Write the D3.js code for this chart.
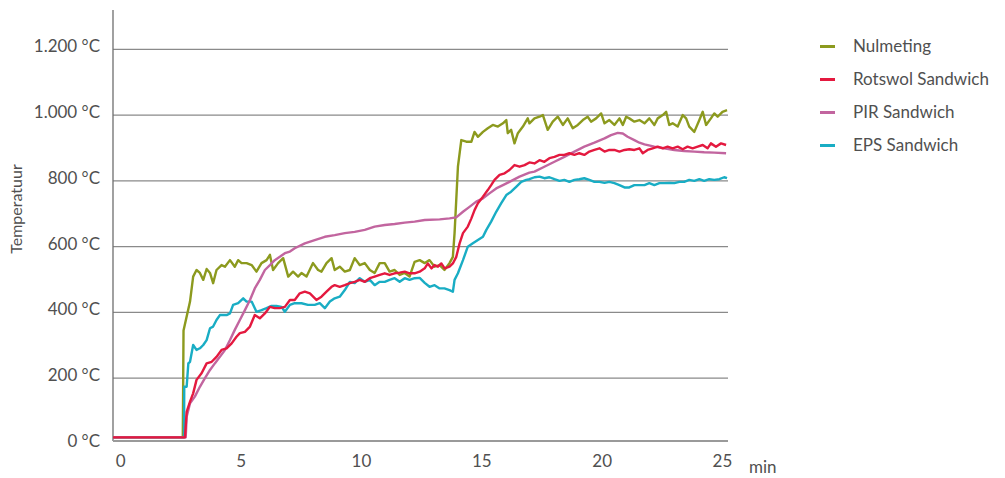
<!DOCTYPE html>
<html>
<head>
<meta charset="utf-8">
<script src="https://cdn.jsdelivr.net/npm/d3@7"></script>
<style>
    body { margin: 0; background: #fff; }
    text { font-family: Lato, "Open Sans", sans-serif; fill: #505050; }
</style>
</head>
<body>
<svg width="1005" height="478"></svg>
<script>
// tick values
var xTicks = [0, 5, 10, 15, 20, 25];
var yTicks = [0, 200, 400, 600, 800, 1000, 1200];

// [minuten, °C]
var nulmeting = [
    [-0.3, 20], [2.6, 20], [2.63, 345], [2.9, 433], [3.03, 509], [3.17, 529], [3.31, 520], [3.45, 499],
    [3.59, 532], [3.73, 520], [3.86, 489], [4.0, 529], [4.21, 544], [4.35, 539], [4.56, 559], [4.76, 539],
    [4.9, 559], [5.04, 550], [5.25, 550], [5.46, 544], [5.66, 524], [5.87, 550], [6.08, 559], [6.22, 575],
    [6.35, 529], [6.56, 550], [6.77, 565], [6.98, 509], [7.18, 524], [7.39, 509], [7.53, 520], [7.74, 509],
    [8.01, 550], [8.22, 529], [8.36, 524], [8.57, 550], [8.78, 565], [8.91, 529], [9.12, 539], [9.33, 524],
    [9.54, 529], [9.74, 565], [9.95, 544], [10.16, 550], [10.37, 529], [10.57, 520], [10.78, 550], [10.99, 550],
    [11.19, 524], [11.4, 529], [11.61, 514], [11.82, 520], [12.02, 509], [12.23, 554], [12.44, 559], [12.65, 550],
    [12.85, 559], [13.06, 539], [13.27, 544], [13.47, 529], [13.68, 550], [13.82, 569], [13.89, 641], [13.96, 742],
    [14.03, 843], [14.17, 924], [14.38, 919], [14.59, 919], [14.72, 949], [14.86, 934], [15.07, 949], [15.27, 960],
    [15.48, 970], [15.69, 965], [15.9, 975], [16.04, 985], [16.1, 945], [16.24, 955], [16.38, 914], [16.52, 945],
    [16.73, 965], [16.93, 990], [17.0, 975], [17.21, 990], [17.42, 995], [17.56, 1000], [17.76, 955], [17.97, 980],
    [18.18, 995], [18.39, 970], [18.59, 990], [18.8, 960], [19.01, 970], [19.22, 985], [19.42, 995], [19.56, 980],
    [19.77, 990], [19.98, 1005], [20.12, 975], [20.32, 985], [20.53, 970], [20.74, 990], [20.88, 970], [21.02, 995],
    [21.15, 990], [21.36, 980], [21.57, 985], [21.78, 975], [21.98, 990], [22.19, 970], [22.33, 990], [22.54, 1000],
    [22.68, 1010], [22.81, 970], [22.95, 975], [23.16, 965], [23.37, 1000], [23.51, 990], [23.64, 965], [23.85, 949],
    [24.06, 985], [24.2, 1010], [24.34, 970], [24.54, 990], [24.68, 1005], [24.82, 995], [25.02, 1010], [25.21, 1015]
];

var rotswol = [
    [-0.3, 20], [2.69, 20], [2.76, 98], [2.9, 129], [3.03, 154], [3.17, 195], [3.38, 215], [3.59, 245],
    [3.8, 250], [4.0, 265], [4.21, 286], [4.42, 291], [4.63, 306], [4.83, 326], [4.97, 337], [5.18, 341],
    [5.39, 357], [5.59, 392], [5.8, 382], [6.01, 397], [6.22, 417], [6.42, 413], [6.63, 413], [6.84, 417],
    [7.05, 438], [7.25, 438], [7.46, 458], [7.67, 463], [7.88, 458], [8.15, 438], [8.36, 448], [8.57, 463],
    [8.78, 478], [8.91, 483], [9.12, 478], [9.33, 483], [9.54, 489], [9.74, 493], [9.95, 499], [10.16, 493],
    [10.37, 504], [10.57, 509], [10.78, 514], [10.99, 519], [11.19, 514], [11.4, 519], [11.61, 521], [11.82, 524],
    [12.02, 519], [12.23, 519], [12.44, 524], [12.65, 534], [12.78, 549], [12.93, 534], [13.06, 544], [13.2, 539],
    [13.34, 549], [13.48, 534], [13.68, 539], [13.82, 549], [13.96, 569], [14.1, 610], [14.24, 641], [14.44, 661],
    [14.59, 686], [14.72, 711], [14.86, 732], [15.07, 752], [15.27, 772], [15.41, 787], [15.55, 803], [15.76, 818],
    [15.97, 823], [16.17, 833], [16.38, 848], [16.59, 843], [16.8, 848], [17.0, 856], [17.21, 853], [17.42, 863],
    [17.62, 858], [17.83, 869], [18.04, 873], [18.25, 879], [18.45, 879], [18.66, 884], [18.87, 879], [19.07, 884],
    [19.28, 879], [19.49, 889], [19.7, 894], [19.91, 899], [20.12, 889], [20.32, 894], [20.53, 894], [20.74, 889],
    [20.95, 894], [21.15, 896], [21.36, 894], [21.57, 899], [21.71, 884], [21.91, 894], [22.12, 899], [22.33, 904],
    [22.54, 899], [22.74, 904], [22.95, 899], [23.16, 904], [23.37, 896], [23.57, 904], [23.78, 899], [23.99, 904],
    [24.2, 909], [24.4, 899], [24.54, 914], [24.75, 904], [24.96, 914], [25.17, 909]
];

var pir = [
    [-0.3, 20], [2.72, 20], [2.76, 83], [2.9, 124], [3.1, 144], [3.31, 174], [3.52, 200], [3.73, 225],
    [3.93, 245], [4.14, 265], [4.35, 286], [4.56, 316], [4.76, 347], [4.97, 377], [5.18, 407], [5.39, 438],
    [5.59, 473], [5.8, 499], [6.01, 529], [6.22, 544], [6.42, 559], [6.63, 569], [6.84, 580], [7.05, 585],
    [7.25, 595], [7.67, 610], [8.08, 620], [8.5, 630], [8.91, 635], [9.33, 641], [9.74, 645], [10.16, 651],
    [10.57, 661], [10.99, 666], [11.4, 669], [11.82, 673], [12.23, 676], [12.65, 681], [13.27, 683], [13.68, 686],
    [13.96, 689], [14.24, 706], [14.51, 721], [14.79, 737], [15.07, 747], [15.34, 762], [15.62, 777], [15.9, 787],
    [16.17, 797], [16.59, 813], [17.0, 825], [17.21, 828], [17.62, 843], [18.04, 858], [18.45, 873], [18.87, 889],
    [19.28, 904], [19.7, 916], [20.12, 929], [20.39, 939], [20.67, 946], [20.88, 944], [21.08, 934], [21.36, 924],
    [21.57, 916], [21.78, 911], [22.19, 904], [22.6, 899], [23.02, 894], [23.43, 891], [23.85, 889], [24.26, 887],
    [24.68, 886], [25.17, 884]
];

var eps = [
    [-0.3, 20], [2.65, 20], [2.66, 174], [2.76, 174], [2.83, 245], [2.9, 250], [3.03, 301], [3.17, 286],
    [3.31, 291], [3.45, 301], [3.59, 316], [3.73, 352], [3.86, 357], [4.0, 377], [4.14, 392], [4.28, 392],
    [4.42, 392], [4.56, 397], [4.69, 423], [4.9, 428], [5.11, 443], [5.25, 433], [5.46, 433], [5.66, 402],
    [5.87, 407], [6.08, 413], [6.29, 420], [6.49, 420], [6.7, 417], [6.84, 402], [7.05, 423], [7.25, 428],
    [7.53, 428], [7.8, 423], [8.08, 423], [8.29, 428], [8.5, 413], [8.71, 433], [8.91, 443], [9.12, 448],
    [9.33, 468], [9.54, 493], [9.74, 489], [9.95, 504], [10.16, 493], [10.37, 499], [10.57, 483], [10.78, 493],
    [10.99, 493], [11.19, 499], [11.4, 504], [11.61, 493], [11.82, 504], [12.02, 499], [12.23, 504], [12.44, 505],
    [12.65, 490], [12.85, 478], [13.06, 483], [13.27, 473], [13.47, 473], [13.68, 468], [13.82, 463], [13.89, 499],
    [14.03, 519], [14.24, 559], [14.44, 600], [14.65, 610], [14.86, 620], [15.07, 630], [15.21, 651], [15.41, 676],
    [15.62, 706], [15.83, 732], [16.04, 757], [16.24, 767], [16.45, 782], [16.66, 797], [16.87, 803], [17.0, 805],
    [17.21, 811], [17.42, 813], [17.62, 808], [17.83, 811], [18.04, 805], [18.25, 800], [18.45, 803], [18.66, 797],
    [18.87, 803], [19.07, 805], [19.28, 808], [19.49, 803], [19.7, 797], [19.91, 797], [20.12, 794], [20.32, 797],
    [20.53, 793], [20.74, 787], [20.95, 780], [21.15, 780], [21.36, 787], [21.57, 787], [21.78, 787], [21.98, 793],
    [22.19, 787], [22.4, 793], [22.6, 793], [22.81, 794], [23.02, 793], [23.23, 797], [23.43, 797], [23.64, 803],
    [23.85, 800], [24.06, 805], [24.26, 800], [24.47, 805], [24.68, 803], [24.89, 805], [25.09, 811], [25.21, 808]
];

var series = [
    { name: "Nulmeting", color: "#8c9a1e", values: nulmeting },
    { name: "Rotswol Sandwich", color: "#e4193f", values: rotswol },
    { name: "PIR Sandwich", color: "#c2659f", values: pir },
    { name: "EPS Sandwich", color: "#19adc4", values: eps }
];
// draw order: red on top
var drawOrder = [0, 3, 2, 1];

var nl = d3.formatLocale({ decimal: ",", thousands: ".", grouping: [3], currency: ["€", ""] });
var fmt = nl.format(",");

var svg = d3.select("svg");
var left = 113, right = 728;

var xScale = d3.scaleLinear().domain([-0.3, 25.25]).range([left, right]);
var yScale = d3.scaleLinear().domain([0, 1200]).range([444, 49.3]);

// gridlines
svg.append("g").selectAll("line")
    .data(yTicks.filter(function (v) { return v > 0; }))
    .enter().append("line")
    .attr("x1", left).attr("x2", right)
    .attr("y1", function (d) { return yScale(d); })
    .attr("y2", function (d) { return yScale(d); })
    .attr("stroke", "#8a8a8a")
    .attr("stroke-width", 1.2);

// y axis
var yAxis = svg.append("g")
    .attr("transform", "translate(" + (left - 13) + ",-3)")
    .call(d3.axisLeft(yScale).tickValues(yTicks).tickSize(0).tickPadding(0)
        .tickFormat(function (d) { return fmt(d) + " °C"; }));
yAxis.select(".domain").remove();
yAxis.selectAll("text").style("font-size", "17px").style("font-family", "Lato, sans-serif").attr("fill", "#505050");

svg.append("line")
    .attr("x1", left).attr("x2", left)
    .attr("y1", 10).attr("y2", 441)
    .attr("stroke", "#6e6e6e")
    .attr("stroke-width", 1.3);

// x axis
var xAxis = svg.append("g")
    .attr("transform", "translate(0,455)")
    .call(d3.axisBottom(xScale).tickValues(xTicks).tickSize(0).tickPadding(0));
xAxis.select(".domain").remove();
xAxis.selectAll("text").style("font-size", "17px").style("font-family", "Lato, sans-serif").attr("fill", "#505050");

svg.append("line")
    .attr("x1", left).attr("x2", right)
    .attr("y1", 441).attr("y2", 441)
    .attr("stroke", "#9a9a9a")
    .attr("stroke-width", 2);

svg.append("text")
    .attr("x", 749)
    .attr("y", 473)
    .style("font-size", "17px")
    .text("min");

svg.append("text")
    .attr("transform", "translate(22,209) rotate(-90)")
    .style("text-anchor", "middle")
    .style("font-size", "16px")
    .text("Temperatuur");

// lines
var line = d3.line()
    .x(function (d) { return xScale(d[0]); })
    .y(function (d) { return yScale(d[1]); });

drawOrder.forEach(function (i) {
    svg.append("path")
        .attr("d", line(series[i].values))
        .attr("fill", "none")
        .attr("stroke", series[i].color)
        .attr("stroke-width", 2.4)
        .attr("stroke-linejoin", "round");
});

// legend
var legend = svg.selectAll(".legend")
    .data(series)
    .enter().append("g")
    .attr("class", "legend")
    .attr("transform", function (d, i) { return "translate(820," + (46.5 + i * 33) + ")"; });

legend.append("line")
    .attr("x1", 0).attr("x2", 15)
    .attr("stroke", function (d) { return d.color; })
    .attr("stroke-width", 3);

legend.append("text")
    .attr("x", 33)
    .attr("dy", "0.35em")
    .style("font-size", "17px")
    .text(function (d) { return d.name; });
</script>
</body>
</html>
